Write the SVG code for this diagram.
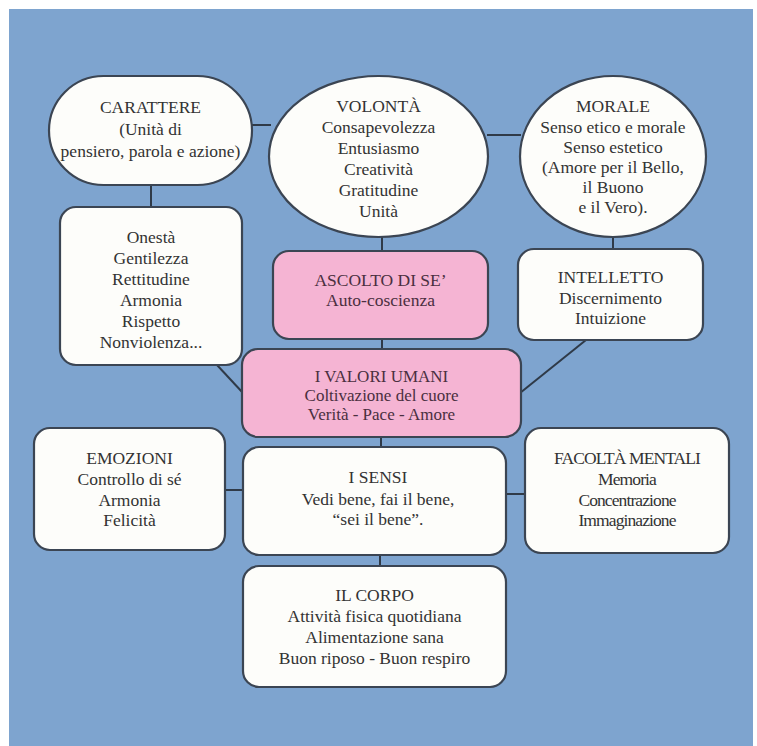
<svg xmlns="http://www.w3.org/2000/svg" width="757" height="746" viewBox="0 0 757 746">
<style>
.bg{fill:#7ea4cf}
.n{fill:#fdfdfa;stroke:#3b4553;stroke-width:2.2}
.p{fill:#f5b4d3;stroke:#3b4553;stroke-width:2.2}
.c{stroke:#2f3a48;stroke-width:2;fill:none}
text{font-family:"Liberation Serif","Times New Roman",serif;font-size:17.5px;fill:#333333;text-anchor:middle}
.pt{fill:#4a2f40}
.v{font-size:17px}
.cond{letter-spacing:-0.9px}
</style>
<rect x="0" y="0" width="757" height="746" fill="#ffffff"/>
<rect class="bg" x="9" y="9" width="744" height="737"/>
<g id="connectors">
<line class="c" x1="252" y1="125" x2="271" y2="125"/>
<line class="c" x1="487" y1="135" x2="521" y2="135"/>
<line class="c" x1="151" y1="185" x2="151" y2="207"/>
<line class="c" x1="382" y1="237" x2="382" y2="251"/>
<line class="c" x1="613" y1="237" x2="613" y2="249"/>
<line class="c" x1="382" y1="339" x2="382" y2="349"/>
<line class="c" x1="217" y1="365" x2="243" y2="393"/>
<line class="c" x1="586" y1="340" x2="520" y2="393"/>
<line class="c" x1="381" y1="437" x2="381" y2="447"/>
<line class="c" x1="225" y1="490" x2="243" y2="490"/>
<line class="c" x1="506" y1="494" x2="525" y2="494"/>
<line class="c" x1="380" y1="555" x2="380" y2="566"/>
</g>
<g id="carattere">
<rect class="n" x="49" y="76" width="203" height="109" rx="54.5"/>
<text x="150.5" y="113">CARATTERE</text>
<text x="150.5" y="135">(Unità di</text>
<text x="150.5" y="157">pensiero, parola e azione)</text>
</g>
<g id="volonta">
<ellipse class="n" cx="378.5" cy="156.5" rx="109.5" ry="80.5"/>
<text x="378.5" y="112">VOLONTÀ</text>
<text x="378.5" y="133">Consapevolezza</text>
<text x="378.5" y="154">Entusiasmo</text>
<text x="378.5" y="175">Creatività</text>
<text x="378.5" y="196">Gratitudine</text>
<text x="378.5" y="217">Unità</text>
</g>
<g id="morale">
<ellipse class="n" cx="613" cy="156.5" rx="93" ry="80.5"/>
<text x="613" y="112">MORALE</text>
<text x="613" y="133">Senso etico e morale</text>
<text x="613" y="153">Senso estetico</text>
<text x="613" y="173">(Amore per il Bello,</text>
<text x="613" y="193">il Buono</text>
<text x="613" y="213">e il Vero).</text>
</g>
<g id="onesta">
<rect class="n" x="60" y="207" width="182" height="158" rx="16"/>
<text x="151" y="243">Onestà</text>
<text x="151" y="264">Gentilezza</text>
<text x="151" y="285">Rettitudine</text>
<text x="151" y="306">Armonia</text>
<text x="151" y="327">Rispetto</text>
<text x="151" y="348">Nonviolenza...</text>
</g>
<g id="ascolto">
<rect class="p" x="273" y="251" width="215" height="88" rx="16"/>
<text class="pt" x="380.5" y="286">ASCOLTO DI SE’</text>
<text class="pt" x="380.5" y="306">Auto-coscienza</text>
</g>
<g id="intelletto">
<rect class="n" x="518" y="249" width="185" height="91" rx="16"/>
<text x="610.5" y="283">INTELLETTO</text>
<text x="610.5" y="304">Discernimento</text>
<text x="610.5" y="324">Intuizione</text>
</g>
<g id="valori">
<rect class="p" x="242" y="349" width="279" height="88" rx="16"/>
<text class="pt v" x="381.5" y="382">I VALORI UMANI</text>
<text class="pt v" x="381.5" y="401">Coltivazione del cuore</text>
<text class="pt v" x="381.5" y="420">Verità - Pace - Amore</text>
</g>
<g id="emozioni">
<rect class="n" x="34" y="428" width="191" height="122" rx="16"/>
<text x="129.5" y="464">EMOZIONI</text>
<text x="129.5" y="485">Controllo di sé</text>
<text x="129.5" y="506">Armonia</text>
<text x="129.5" y="526">Felicità</text>
</g>
<g id="sensi">
<rect class="n" x="243" y="447" width="263" height="108" rx="16"/>
<text x="378" y="483">I SENSI</text>
<text x="378" y="505">Vedi bene, fai il bene,</text>
<text x="378" y="525">“sei il bene”.</text>
</g>
<g id="facolta">
<rect class="n" x="525" y="428" width="204" height="125" rx="16"/>
<text class="cond" x="627" y="464">FACOLTÀ MENTALI</text>
<text class="cond" x="627" y="485">Memoria</text>
<text class="cond" x="627" y="506">Concentrazione</text>
<text class="cond" x="627" y="526">Immaginazione</text>
</g>
<g id="corpo">
<rect class="n" x="243" y="566" width="263" height="121" rx="16"/>
<text x="374.5" y="601">IL CORPO</text>
<text x="374.5" y="622">Attività fisica quotidiana</text>
<text x="374.5" y="643">Alimentazione sana</text>
<text x="374.5" y="664">Buon riposo - Buon respiro</text>
</g>
</svg>
